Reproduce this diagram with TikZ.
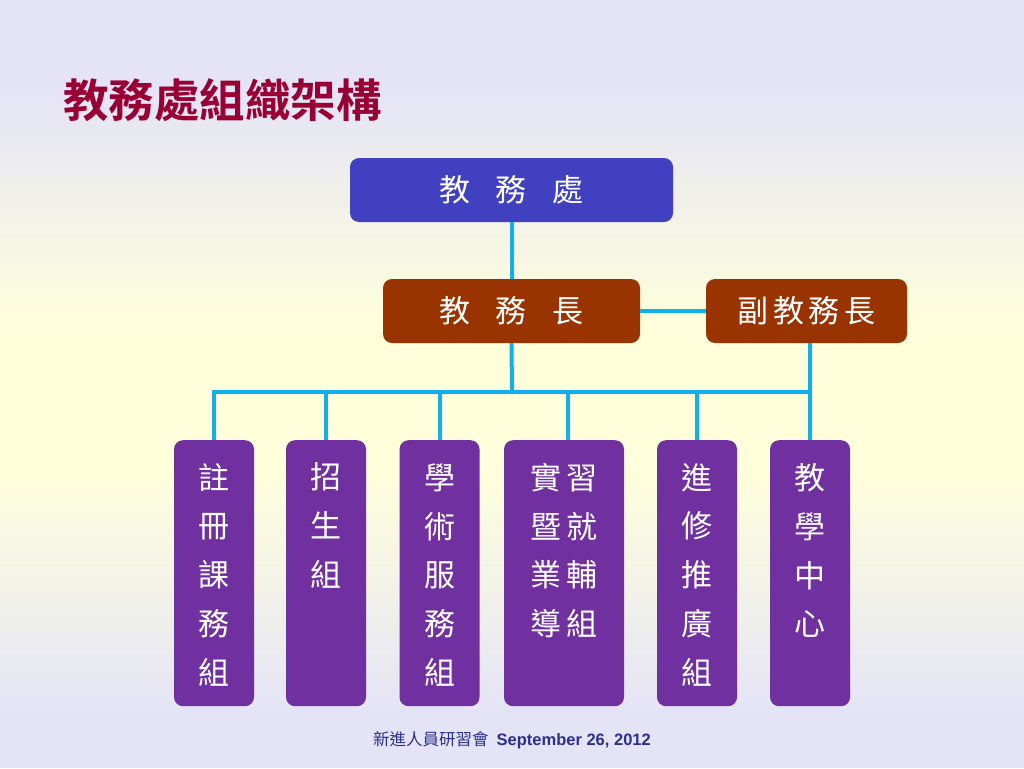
\documentclass[tikz,border=0pt]{standalone}
\usepackage{fontspec}
\newfontfamily\cjk{Noto Sans CJK TC}
\newfontfamily\cjkb{Noto Sans CJK TC Bold}
\newfontfamily\lat{Liberation Sans}
\definecolor{bglav}{HTML}{E4E4F6}
\definecolor{bgyel}{HTML}{FFFFDC}
\definecolor{titlec}{HTML}{990033}
\definecolor{topc}{HTML}{4040C0}
\definecolor{brownc}{HTML}{993300}
\definecolor{purplec}{HTML}{7030A0}
\definecolor{linec}{HTML}{10B0EC}
\definecolor{footc}{HTML}{2E2E8E}
\tikzset{
  orgbox/.style={rounded corners=9pt, inner sep=0pt, text=white, font=\cjk\fontsize{31}{36}\selectfont},
  colbox/.style={orgbox, fill=purplec, minimum width=80pt, minimum height=266pt, anchor=north},
  wire/.style={draw=linec, line width=4pt},
}
\newcommand{\gp}{\hspace{26pt}}
\newcommand{\colt}[1]{\raisebox{-12pt}[\height][\dimexpr\depth+12pt\relax]{\begin{tabular}{@{}c@{}}#1\end{tabular}}}
\begin{document}
\begin{tikzpicture}[x=1pt,y=-1pt]
\useasboundingbox (0,0) rectangle (1024,768);
% background
\fill[bglav] (0,0) rectangle (1024,90);
\shade[top color=bglav, bottom color=bgyel] (0,89.5) rectangle (1024,330.5);
\fill[bgyel] (0,330) rectangle (1024,470);
\shade[top color=bgyel, bottom color=bglav] (0,469.5) rectangle (1024,710.5);
\fill[bglav] (0,710) rectangle (1024,768);

% title
\node[anchor=west, text=titlec, font=\cjkb\fontsize{45.5}{50}\selectfont, inner sep=0pt] (title) at (63,100) {教務處組織架構};

% top boxes
\node[orgbox, fill=topc, minimum width=323pt, minimum height=64pt] (chu) at (511.5,190) {教\gp 務\gp 處};
\node[orgbox, fill=brownc, minimum width=257pt, minimum height=64pt] (zhang) at (511.5,311) {教\gp 務\gp 長};
\node[orgbox, fill=brownc, minimum width=201pt, minimum height=64pt] (fu) at (806.5,311) {副\hspace{5pt}教\hspace{5pt}務\hspace{5pt}長};

% bottom boxes
\node[colbox] (b1) at (214,440) {\colt{註\\[12pt]冊\\[12pt]課\\[12pt]務\\[12pt]組}};
\node[colbox] (b2) at (326,440) {\colt{招\\[12pt]生\\[12pt]組\\[12pt]\phantom{組}\\[12pt]\phantom{組}}};
\node[colbox] (b3) at (439.5,440) {\colt{學\\[12pt]術\\[12pt]服\\[12pt]務\\[12pt]組}};
\node[colbox, minimum width=120pt] (b4) at (564,440) {\colt{實\hspace{5pt}習\\[12pt]暨\hspace{5pt}就\\[12pt]業\hspace{5pt}輔\\[12pt]導\hspace{5pt}組\\[12pt]\phantom{組}}};
\node[colbox] (b5) at (697,440) {\colt{進\\[12pt]修\\[12pt]推\\[12pt]廣\\[12pt]組}};
\node[colbox] (b6) at (810,440) {\colt{教\\[12pt]學\\[12pt]中\\[12pt]心\\[12pt]\phantom{組}}};

% connectors
\coordinate (bus) at (512,392);
\draw[wire] (chu.south) -- (zhang.north);
\draw[wire] (zhang.east) -- (fu.west);
\draw[wire] (zhang.south) -- (bus);
\draw[wire] (fu.south -| b6.north) -- (b6.north);
\draw[wire, line cap=rect] (b1.north |- bus) -- (b6.north |- bus);
\foreach \b in {b1,b2,b3,b5}{\draw[wire] (\b.north |- bus) -- (\b.north);}
\coordinate (b4in) at (568,392);
\draw[wire] (b4in) -- (b4in |- b4.north);

% footer
\node[text=footc, inner sep=0pt] (foot) at (512,740) {{\cjk\fontsize{16.5}{18}\selectfont 新進人員研習會}\hspace{8pt}{\lat\bfseries\fontsize{16.5}{18}\selectfont September 26, 2012}};
\end{tikzpicture}
\end{document}
